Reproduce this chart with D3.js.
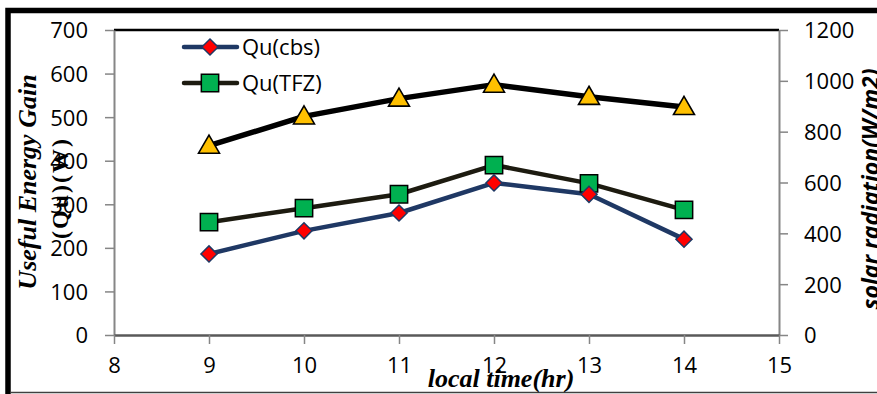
<!DOCTYPE html>
<html>
<head>
<meta charset="utf-8">
<script src="https://cdn.jsdelivr.net/npm/d3@7"></script>
<style>
  html, body { margin: 0; padding: 0; background: #ffffff; }
  svg { display: block; }
</style>
</head>
<body>
<svg id="chart" width="877" height="394"></svg>
<script>
// Hourly readings
const hours = [9, 10, 11, 12, 13, 14];
const quCbs = [186, 239, 280, 349, 323, 220];      // W
const quTfz = [259, 291, 323, 390, 348, 287];      // W
const radiation = [745, 860, 930, 985, 937, 897];  // W/m2

const xTicks = [8, 9, 10, 11, 12, 13, 14, 15];
const yLeftTicks = [0, 100, 200, 300, 400, 500, 600, 700];
const yRightTicks = [0, 200, 400, 600, 800, 1000, 1200];
const legendLabels = ["Qu(cbs)", "Qu(TFZ)"];

const svg = d3.select("#chart");
const plot = { left: 114, right: 779, top: 30, bottom: 335 };

const x = d3.scaleLinear().domain([8, 15]).range([plot.left, plot.right]);
const yL = d3.scaleLinear().domain([0, 700]).range([plot.bottom, plot.top]);
const yR = d3.scaleLinear().domain([0, 1200]).range([plot.bottom, plot.top]);

const tickFont = "'Open Sans', 'Noto Sans', sans-serif";
const axisGray = "#868686";
const intFmt = d3.format("d");

// outer frame (runs off the right and bottom edges)
svg.append("rect")
  .attr("x", 8).attr("y", 10.5)
  .attr("width", 900).attr("height", 420)
  .attr("fill", "none").attr("stroke", "#000").attr("stroke-width", 5.5);
svg.append("line")
  .attr("x1", 11).attr("x2", 877).attr("y1", 392.5).attr("y2", 392.5)
  .attr("stroke", "#404040").attr("stroke-width", 1.5);

// plot area top border
svg.append("line")
  .attr("x1", plot.left).attr("x2", plot.right)
  .attr("y1", plot.top).attr("y2", plot.top)
  .attr("stroke", "#000").attr("stroke-width", 2.5);

function styleAxis(g, color, width) {
  g.select(".domain").attr("stroke", color).attr("stroke-width", width);
  g.selectAll(".tick line").attr("stroke", axisGray).attr("stroke-width", 1.5);
  g.selectAll(".tick text")
    .attr("font-family", tickFont).attr("font-size", 22).attr("fill", "#000");
}

// left axis
const gL = svg.append("g").attr("transform", `translate(${plot.left},0)`)
  .call(d3.axisLeft(yL).tickValues(yLeftTicks).tickFormat(intFmt)
    .tickSize(9).tickSizeOuter(0).tickPadding(17));
styleAxis(gL, axisGray, 2);
gL.selectAll(".tick text").attr("dy", "0.36em");

// right axis
const gR = svg.append("g").attr("transform", `translate(${plot.right},0)`)
  .call(d3.axisRight(yR).tickValues(yRightTicks).tickFormat(intFmt)
    .tickSize(9).tickSizeOuter(0).tickPadding(16));
styleAxis(gR, axisGray, 2);
gR.selectAll(".tick text").attr("dy", "0.36em");

// bottom axis
const gB = svg.append("g").attr("transform", `translate(0,${plot.bottom})`)
  .call(d3.axisBottom(x).tickValues(xTicks).tickFormat(intFmt)
    .tickSize(9).tickSizeOuter(0).tickPadding(13));
styleAxis(gB, "#595959", 2.5);
gB.selectAll(".tick text").attr("dy", "0.71em");

// series lines
const series = [
  { vals: radiation, y: yR, color: "#000000", width: 5.5, marker: "triangle" },
  { vals: quTfz, y: yL, color: "#1d1b10", width: 4.5, marker: "square" },
  { vals: quCbs, y: yL, color: "#1f3864", width: 4.5, marker: "diamond" }
];

// diamonds are squares turned by 45 degrees
const markerStyle = {
  diamond: { type: d3.symbolSquare, size: 130, fill: "#ff0000", stroke: "#1f3864", sw: 1.5, rot: 45, dy: 0 },
  square: { type: d3.symbolSquare, size: 300, fill: "#00b050", stroke: "#000000", sw: 1.5, rot: 0, dy: 0 },
  triangle: { type: d3.symbolTriangle, size: 190, fill: "#ffc000", stroke: "#000000", sw: 1.6, rot: 0, dy: 1.5 }
};

function drawMarker(g, kind, cx, cy) {
  const m = markerStyle[kind];
  g.append("path")
    .attr("d", d3.symbol().type(m.type).size(m.size)())
    .attr("transform", `translate(${cx},${cy + m.dy}) rotate(${m.rot})`)
    .attr("fill", m.fill).attr("stroke", m.stroke).attr("stroke-width", m.sw)
    .attr("stroke-linejoin", "miter");
}

series.forEach(s => {
  const line = d3.line().x((d, i) => x(hours[i])).y(d => s.y(d));
  svg.append("path").datum(s.vals)
    .attr("d", line)
    .attr("fill", "none").attr("stroke", s.color).attr("stroke-width", s.width)
    .attr("stroke-linejoin", "round");
});
series.forEach(s => {
  const g = svg.append("g");
  s.vals.forEach((v, i) => drawMarker(g, s.marker, x(hours[i]), s.y(v)));
});

// legend
const legendRows = [
  { label: legendLabels[0], color: "#1f3864", marker: "diamond", y: 47 },
  { label: legendLabels[1], color: "#1d1b10", marker: "square", y: 83 }
];
legendRows.forEach(r => {
  svg.append("line")
    .attr("x1", 184).attr("x2", 237).attr("y1", r.y).attr("y2", r.y)
    .attr("stroke", r.color).attr("stroke-width", 4.5).attr("stroke-linecap", "round");
  drawMarker(svg, r.marker, 210, r.y);
  svg.append("text")
    .attr("x", 242).attr("y", r.y).attr("dy", "0.36em")
    .attr("font-family", tickFont).attr("font-size", 22).attr("fill", "#000")
    .text(r.label);
});

// axis titles
svg.append("text")
  .attr("transform", "translate(27,182) rotate(-90)")
  .attr("text-anchor", "middle").attr("dy", "0.35em")
  .attr("font-family", "'Liberation Serif', 'DejaVu Serif', serif")
  .attr("font-style", "italic").attr("font-weight", "bold").attr("font-size", 26)
  .text("Useful Energy Gain");
svg.append("text")
  .attr("transform", "translate(60,188) rotate(-90)")
  .attr("text-anchor", "middle").attr("dy", "0.35em")
  .attr("font-family", "'Liberation Serif', 'DejaVu Serif', serif")
  .attr("font-weight", "bold").attr("font-size", 24).attr("letter-spacing", 2)
  .text("(Qu)(W)");
svg.append("text")
  .attr("transform", "translate(879,189) rotate(-90)")
  .attr("text-anchor", "middle")
  .attr("font-family", "'Open Sans', 'Liberation Sans', sans-serif")
  .attr("font-style", "italic").attr("font-weight", "bold").attr("font-size", 23)
  .text("solar radiation(W/m2)");
svg.append("text")
  .attr("x", 501).attr("y", 387)
  .attr("text-anchor", "middle")
  .attr("font-family", "'Liberation Serif', 'DejaVu Serif', serif")
  .attr("font-style", "italic").attr("font-weight", "bold").attr("font-size", 26)
  .text("local time(hr)");
</script>
</body>
</html>
